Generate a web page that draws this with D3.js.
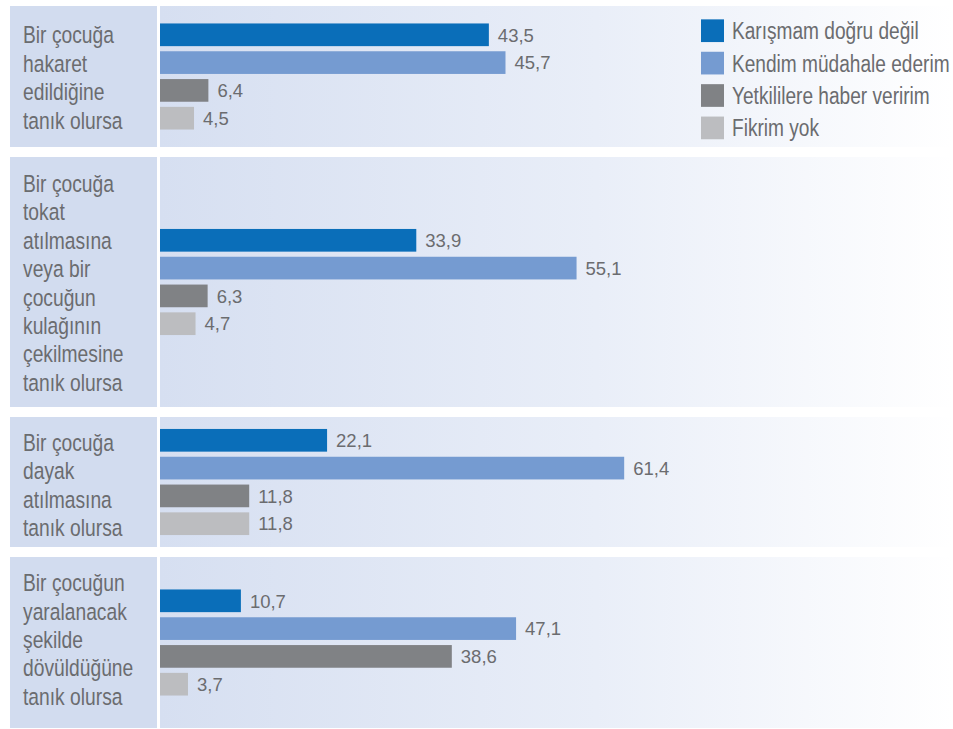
<!DOCTYPE html>
<html>
<head>
<meta charset="utf-8">
<script src="https://cdn.jsdelivr.net/npm/d3@7"></script>
<style>
  html, body { margin: 0; padding: 0; background: #ffffff; }
  svg { display: block; }
</style>
</head>
<body>
<svg id="chart" width="953" height="729"></svg>
<script>
// ---- Data ----
const categoryLines = [
  ["Bir çocuğa", "hakaret", "edildiğine", "tanık olursa"],
  ["Bir çocuğa", "tokat", "atılmasına", "veya bir", "çocuğun", "kulağının", "çekilmesine", "tanık olursa"],
  ["Bir çocuğa", "dayak", "atılmasına", "tanık olursa"],
  ["Bir çocuğun", "yaralanacak", "şekilde", "dövüldüğüne", "tanık olursa"]
];
const seriesNames = ["Karışmam doğru değil", "Kendim müdahale ederim", "Yetkililere haber veririm", "Fikrim yok"];
const karismam = [43.5, 33.9, 22.1, 10.7];
const kendim   = [45.7, 55.1, 61.4, 47.1];
const yetkili  = [6.4, 6.3, 11.8, 38.6];
const fikrim   = [4.5, 4.7, 11.8, 3.7];
const seriesColors = ["#0a6eb9", "#759bd1", "#808285", "#bcbdc0"];

// ---- Layout ----
const W = 953, H = 729;
const panelLeft = 10, labelColRight = 157, plotLeft = 160;
const panelHeights = [141, 250, 130, 171];
const labelShift = [1, 1, 3, -3];
const panelGap = 10, firstTop = 6;
const sansFont = "'Liberation Sans', Arial, Helvetica, sans-serif";
const narrow = 0.82; // horizontal condensing of the label font
const textColor = "#6b6c6f";

const svg = d3.select("#chart");
const defs = svg.append("defs");
const grad = defs.append("linearGradient").attr("id", "bg")
  .attr("gradientUnits", "userSpaceOnUse")
  .attr("x1", plotLeft).attr("x2", W).attr("y1", 0).attr("y2", 0);
grad.append("stop").attr("offset", 0).attr("stop-color", "#d6dff1");
grad.append("stop").attr("offset", 0.55).attr("stop-color", "#e9eef8");
grad.append("stop").attr("offset", 1).attr("stop-color", "#ffffff");

const locale = d3.formatLocale({decimal: ",", thousands: ".", grouping: [3], currency: ["", ""]});
const fmt = locale.format(".1f");

const x = d3.scaleLinear().domain([0, 100]).range([plotLeft, plotLeft + 756]);

const rows = categoryLines.map((lines, i) => ({
  lines,
  values: [karismam[i], kendim[i], yetkili[i], fikrim[i]]
}));

let panelTop = firstTop;
rows.forEach((row, i) => {
  const h = panelHeights[i];
  const g = svg.append("g");
  g.append("rect").attr("x", panelLeft).attr("y", panelTop)
    .attr("width", labelColRight - panelLeft).attr("height", h)
    .attr("fill", "#d2dcef");
  g.append("rect").attr("x", plotLeft).attr("y", panelTop)
    .attr("width", W - plotLeft).attr("height", h)
    .attr("fill", "url(#bg)");

  const cy = panelTop + h / 2;
  const step = 27.8;
  const y = d3.scaleBand().domain(d3.range(4))
    .range([cy - 2 * step, cy + 2 * step])
    .paddingInner(0.184).paddingOuter(0.092);

  g.selectAll("rect.bar").data(row.values).join("rect")
    .attr("class", "bar")
    .attr("x", x(0))
    .attr("y", (d, j) => y(j))
    .attr("width", d => x(d) - x(0))
    .attr("height", y.bandwidth())
    .attr("fill", (d, j) => seriesColors[j]);

  g.selectAll("text.val").data(row.values).join("text")
    .attr("class", "val")
    .attr("x", d => x(d) + 9)
    .attr("y", (d, j) => y(j) + y.bandwidth() / 2 + 6.7)
    .attr("font-family", sansFont)
    .attr("font-size", 18.5)
    .attr("fill", textColor)
    .text(d => fmt(d));

  const lh = 28.4, fs = 23.5;
  const firstBase = cy - (row.lines.length - 1) * lh / 2 + fs * 0.36 + labelShift[i];
  const t = g.append("text")
    .attr("transform", `translate(23,0) scale(${narrow},1)`)
    .attr("font-family", sansFont)
    .attr("font-size", fs)
    .attr("fill", textColor);
  t.selectAll("tspan").data(row.lines).join("tspan")
    .attr("x", 0)
    .attr("y", (d, k) => firstBase + k * lh)
    .text(d => d);

  panelTop += h + panelGap;
});

// ---- Legend ----
const legend = svg.append("g");
const ly = d3.scaleBand().domain(d3.range(4)).range([14.5, 14.5 + 4 * 32.4]).paddingInner(0.3).paddingOuter(0.15);
legend.selectAll("rect").data(seriesNames).join("rect")
  .attr("x", 701).attr("y", (d, i) => ly(i))
  .attr("width", 23).attr("height", 22.7)
  .attr("fill", (d, i) => seriesColors[i]);
legend.selectAll("text").data(seriesNames).join("text")
  .attr("transform", (d, i) => `translate(732,${ly(i) + 11.35 + 8.4}) scale(${narrow},1)`)
  .attr("font-family", sansFont)
  .attr("font-size", 23.3)
  .attr("fill", textColor)
  .text(d => d);
</script>
</body>
</html>
